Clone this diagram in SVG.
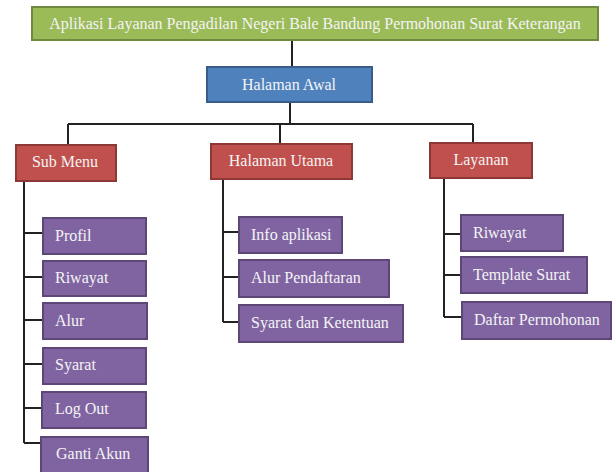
<svg xmlns="http://www.w3.org/2000/svg" width="613" height="472" viewBox="0 0 613 472">
<style>
.t{font-family:"Liberation Serif","Times New Roman",serif;font-size:16px;fill:#f4f4f4}
.c{text-anchor:middle}
.g{fill:#9BBB59;stroke:#71893F;stroke-width:2}
.b{fill:#4F81BD;stroke:#385D8A;stroke-width:2}
.r{fill:#C0504D;stroke:#8C3836;stroke-width:2}
.p{fill:#8064A2;stroke:#5C4776;stroke-width:2}
.ln{stroke:#222;stroke-width:2;fill:none}
</style>
<rect width="613" height="472" fill="#fff"/>
<g id="connectors" class="ln">
<path d="M292 40V67"/>
<path d="M290 102V124M68 124H473M68 124V145M280 124V144M473 124V143"/>
<path d="M24 181V443M24 233H43M24 277H43M24 320H43M24 364H43M24 408H43M24 443H41"/>
<path d="M223 179V322M223 232H239M223 277H239M223 322H239"/>
<path d="M444 178V317M444 234H461M444 275H461M444 317H462"/>
</g>
<g id="title"><rect class="g" x="32" y="7" width="566" height="33"/><text class="t c" x="315" y="29">Aplikasi Layanan Pengadilan Negeri Bale Bandung Permohonan Surat Keterangan</text></g>
<g id="halaman-awal"><rect class="b" x="207" y="67" width="165" height="35"/><text class="t c" x="289" y="90">Halaman Awal</text></g>
<g id="sub-menu"><rect class="r" x="16" y="145" width="100" height="36"/><text class="t c" x="65" y="167">Sub Menu</text></g>
<g id="halaman-utama"><rect class="r" x="211" y="144" width="141" height="35"/><text class="t c" x="281" y="166">Halaman Utama</text></g>
<g id="layanan"><rect class="r" x="430" y="143" width="102" height="35"/><text class="t c" x="481" y="165">Layanan</text></g>
<g id="profil"><rect class="p" x="43" y="218" width="103" height="36"/><text class="t" x="55" y="241">Profil</text></g>
<g id="riwayat1"><rect class="p" x="43" y="261" width="103" height="35"/><text class="t" x="55" y="283">Riwayat</text></g>
<g id="alur"><rect class="p" x="43" y="303" width="104" height="36"/><text class="t" x="55" y="326">Alur</text></g>
<g id="syarat"><rect class="p" x="43" y="348" width="103" height="36"/><text class="t" x="55" y="370">Syarat</text></g>
<g id="logout"><rect class="p" x="42" y="392" width="104" height="36"/><text class="t" x="55" y="414">Log Out</text></g>
<g id="ganti-akun"><rect class="p" x="41" y="437" width="107" height="36"/><text class="t" x="56" y="459">Ganti Akun</text></g>
<g id="info-aplikasi"><rect class="p" x="239" y="217" width="103" height="36"/><text class="t" x="251" y="240">Info aplikasi</text></g>
<g id="alur-pendaftaran"><rect class="p" x="239" y="260" width="150" height="37"/><text class="t" x="251" y="283">Alur Pendaftaran</text></g>
<g id="syarat-ketentuan"><rect class="p" x="239" y="305" width="164" height="37"/><text class="t" x="251" y="328">Syarat dan Ketentuan</text></g>
<g id="riwayat2"><rect class="p" x="461" y="215" width="102" height="36"/><text class="t" x="473" y="238">Riwayat</text></g>
<g id="template-surat"><rect class="p" x="461" y="257" width="126" height="36"/><text class="t" x="473" y="280">Template Surat</text></g>
<g id="daftar-permohonan"><rect class="p" x="462" y="302" width="149" height="37"/><text class="t" x="474" y="325">Daftar Permohonan</text></g>
</svg>
